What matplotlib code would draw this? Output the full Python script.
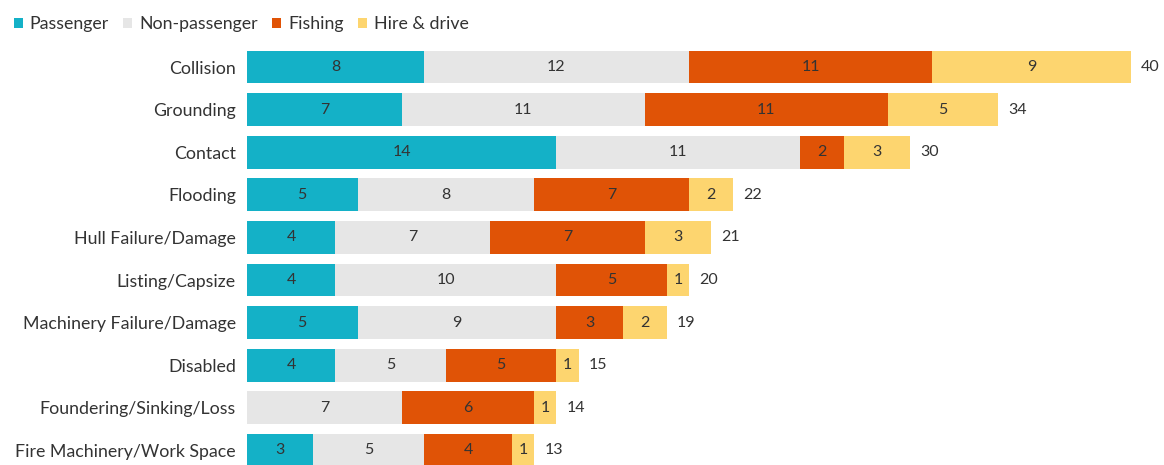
import numpy as np
import matplotlib.pyplot as plt

plt.rcParams['font.family'] = ['Lato', 'DejaVu Sans']

# incident types, top to bottom
categories = ['Collision', 'Grounding', 'Contact', 'Flooding', 'Hull Failure/Damage',
              'Listing/Capsize', 'Machinery Failure/Damage', 'Disabled',
              'Foundering/Sinking/Loss', 'Fire Machinery/Work Space']

passenger = [8, 7, 14, 5, 4, 4, 5, 4, 0, 3]
non_passenger = [12, 11, 11, 8, 7, 10, 9, 5, 7, 5]
fishing = [11, 11, 2, 7, 7, 5, 3, 5, 6, 4]
hire_drive = [9, 5, 3, 2, 3, 1, 2, 1, 1, 1]

series = [('Passenger', passenger, '#14b1c7'),
          ('Non-passenger', non_passenger, '#e6e6e6'),
          ('Fishing', fishing, '#e05306'),
          ('Hire & drive', hire_drive, '#fdd56f')]

W, H = 1164, 465
fig = plt.figure(figsize=(W / 100, H / 100), dpi=100)
ax = fig.add_axes([247 / W, 0, 1 - 247 / W, 1])

y = np.arange(len(categories))
left = np.zeros(len(categories))
text_col = '#333333'
for name, vals, col in series:
    vals = np.array(vals, dtype=float)
    ax.barh(y, vals, left=left, height=0.77, color=col, label=name)
    for yi, l, v in zip(y, left, vals):
        if v > 0:
            ax.text(l + v / 2, yi, f'{int(v)}', ha='center', va='center',
                    fontsize=11.5, color=text_col)
    left += vals

for yi, tot in zip(y, left):
    ax.text(tot + 0.45, yi, f'{int(tot)}', ha='left', va='center',
            fontsize=11.5, color=text_col)

ax.set_xlim(0, (W - 247) / 22.1)
ax.set_ylim((H - 67) / 42.6, -67 / 42.6)
ax.set_yticks(y)
ax.set_yticklabels(categories, fontsize=12.8, color=text_col)
ax.tick_params(axis='y', length=0, pad=8)
ax.set_xticks([])
for s in ax.spines.values():
    s.set_visible(False)

fig.legend(loc='upper left', bbox_to_anchor=(-0.002, 1.0), ncol=4, frameon=False,
           fontsize=12.8, handlelength=0.5, handleheight=0.5, handletextpad=0.4,
           columnspacing=0.8, labelcolor=text_col)

fig.savefig('out.png', dpi=100)
